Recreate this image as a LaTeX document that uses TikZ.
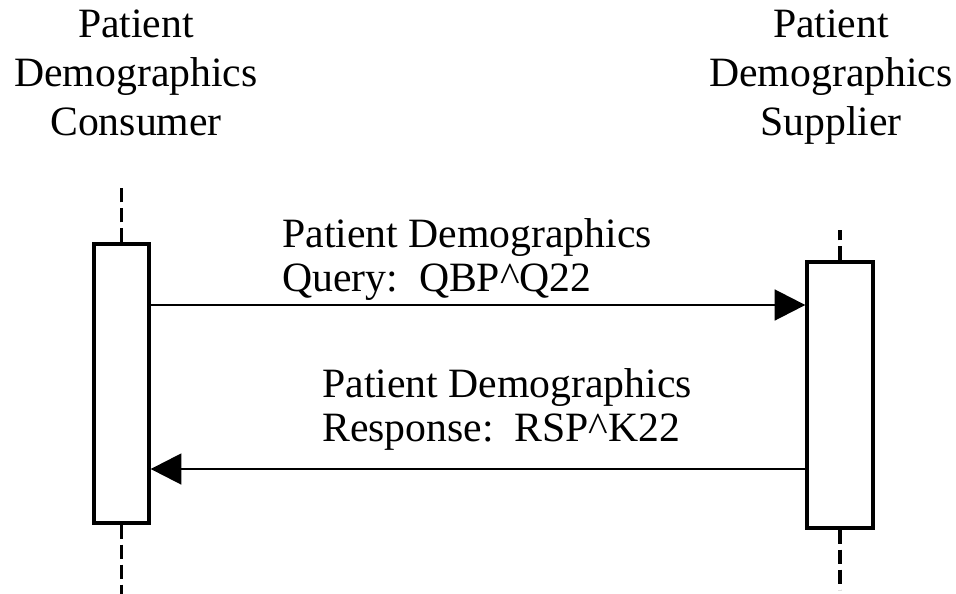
\documentclass[tikz,border=0pt]{standalone}
\usepackage{fontspec}
\setmainfont{Liberation Serif}
\usetikzlibrary{arrows.meta, positioning}
\tikzset{>={Triangle[length=23pt,width=23pt]}}
\tikzset{
	actbox/.style={draw, line width=2.5pt, inner sep=0pt, fill=white},
	lifeline/.style={line width=2.6pt, dash pattern=on 10.5pt off 4.5pt},
	msg/.style={->, line width=2pt},
	hdr/.style={font=\fontsize{31.3}{36.75}\selectfont, align=center, inner sep=0pt, anchor=base},
	msglbl/.style={font=\fontsize{31.3}{33}\selectfont, align=left, inner sep=0pt, anchor=base west}
}

\begin{document}
\begin{tikzpicture}[x=0.75pt,y=-0.75pt]
	\useasboundingbox (0,0) rectangle (956,593);
	\node [hdr] (consname) at (136,135) {Patient\\Demographics\\Consumer};
	\node [hdr] (suppname) at (831,135) {Patient\\Demographics\\Supplier};
	\node [actbox, minimum width=41.25pt, minimum height=209.25pt] (cons) at (121.5,383.5) {};
	\node [actbox, minimum width=49.5pt, minimum height=199.5pt] (supp) at (840,395) {};
	\draw [lifeline] (cons.north) -- ++(0,-59);
	\draw [lifeline] (cons.south) -- ++(0,70);
	\draw [lifeline] (supp.north) -- ++(0,-30);
	\draw [lifeline] (supp.south) -- ++(0,60);
	\coordinate (qry) at (0,305);
	\coordinate (rsp) at (0,469);
	\draw [msg] (cons.east |- qry) -- (supp.west |- qry);
	\draw [msg] (supp.west |- rsp) -- (cons.east |- rsp);
	\node [msglbl] (qrylbl) at (282,291) {Patient Demographics\\Query:\ \ QBP\textasciicircum Q22};
	\node [msglbl] (rsplbl) at (322,441) {Patient Demographics\\Response:\ \ RSP\textasciicircum K22};
\end{tikzpicture}
\end{document}
